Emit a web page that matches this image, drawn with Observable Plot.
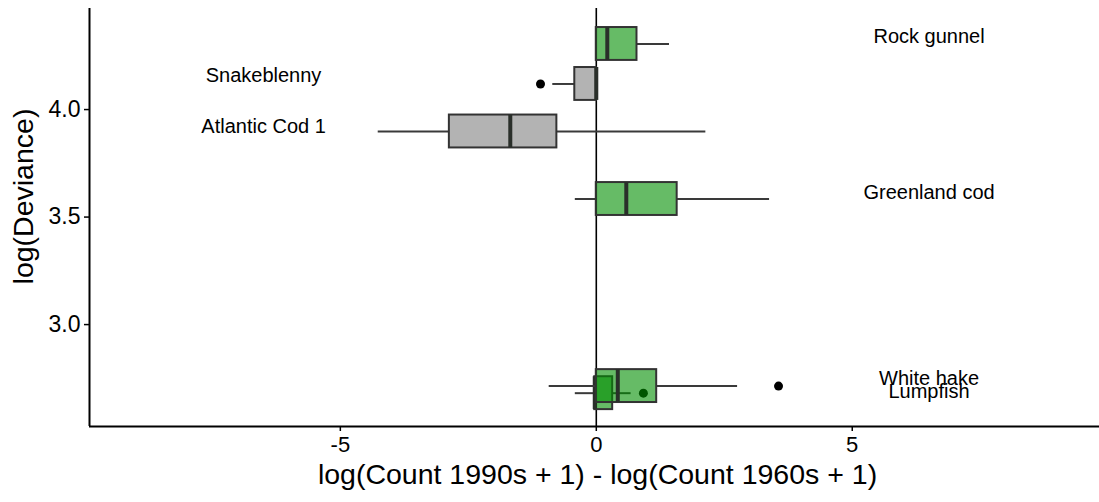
<!DOCTYPE html>
<html>
<head>
<meta charset="utf-8">
<script src="https://cdn.jsdelivr.net/npm/d3@7"></script>
<script src="https://cdn.jsdelivr.net/npm/@observablehq/plot@0.6"></script>
<style>
  html, body { margin: 0; padding: 0; background: #fff; }
  #chart { width: 1099px; height: 502px; }
</style>
</head>
<body>
<div id="chart"></div>
<script>
// ---- data ----
const species   = ["Rock gunnel", "Snakeblenny", "Atlantic Cod 1", "Greenland cod", "Lumpfish", "White hake"];
const deviance  = [4.305, 4.119, 3.898, 3.584, 2.681, 2.714];   // log(Deviance), box centre
const labelDev  = [4.340, 4.156, 3.923, 3.616, 2.688, 2.749];   // log(Deviance) of the label
const labelSide = [1, -1, -1, 1, 1, 1];
const whiskerLo = [0.00, -0.85, -4.26, -0.41, -0.41, -0.92];
const q1        = [0.00, -0.42, -2.87, 0.00, -0.03, 0.00];
const median    = [0.215, 0.00, -1.68, 0.586, -0.03, 0.42];
const q3        = [0.795, 0.00, -0.77, 1.58, 0.32, 1.18];
const whiskerHi = [1.43, 0.00, 2.14, 3.385, 0.68, 2.76];
const trend     = ["up", "down", "down", "up", "up", "up"];
const outlierSpecies = ["Snakeblenny", "Lumpfish", "White hake"];
const outlierValue   = [-1.09, 0.92, 3.56];
const xTicks = [-5, 0, 5];
const yTicks = [3.0, 3.5, 4.0];
const xDomain = [-9.9, 9.83];
const yDomain = [2.526, 4.47];

// ---- build table ----
const boxHalf = 0.0765;
const labelOffset = 6.5;
const rows = species.map((s, i) => ({
  species: s, y: deviance[i], ly: labelDev[i], lx: labelSide[i] * labelOffset,
  lo: whiskerLo[i], q1: q1[i], med: median[i], q3: q3[i], hi: whiskerHi[i],
  trend: trend[i], y1: deviance[i] - boxHalf, y2: deviance[i] + boxHalf
}));
const outliers = outlierSpecies.map((s, i) => ({
  species: s, x: outlierValue[i], y: deviance[species.indexOf(s)]
}));

const fills = {up: "rgb(0,142,0)", down: "rgb(128,128,128)"};
const marks = [];

// zero line
marks.push(Plot.ruleX([0], {y1: yDomain[0], y2: yDomain[1], stroke: "#000", strokeWidth: 1.6}));

rows.forEach(r => {
  const d = [r];
  marks.push(Plot.ruleY(d, {y: "y", x1: "lo", x2: "q1", stroke: "#3a3a3a", strokeWidth: 2}));
  marks.push(Plot.ruleY(d, {y: "y", x1: "q3", x2: "hi", stroke: "#3a3a3a", strokeWidth: 2}));
  marks.push(Plot.dot(outliers.filter(o => o.species === r.species), {x: "x", y: "y", r: 4.5, fill: "#000", stroke: "none"}));
  marks.push(Plot.rect(d, {x1: "q1", x2: "q3", y1: "y1", y2: "y2", fill: fills[r.trend], fillOpacity: 0.6, stroke: "#333", strokeWidth: 2}));
  marks.push(Plot.ruleX(d, {x: "med", y1: "y1", y2: "y2", stroke: "#2a2f2a", strokeWidth: 4}));
});

// labels
marks.push(Plot.text(rows, {x: "lx", y: "ly", text: "species", fontSize: 20, fill: "#000", textAnchor: "middle"}));

// axis lines
marks.push(Plot.ruleX([xDomain[0]], {y1: yDomain[0], y2: yDomain[1], stroke: "#000", strokeWidth: 2}));
marks.push(Plot.ruleY([yDomain[0]], {x1: xDomain[0], x2: xDomain[1], stroke: "#000", strokeWidth: 2}));

// axes
marks.push(Plot.axisX({ticks: xTicks, tickSize: 5, tickPadding: 5, fontSize: 22, label: null, stroke: "#000", strokeWidth: 1.5, tickFormat: d => String(d)}));
marks.push(Plot.axisY({ticks: yTicks, tickSize: 5, tickPadding: 4, fontSize: 23, label: null, stroke: "#000", strokeWidth: 1.5, tickFormat: d3.format(".1f")}));

// axis titles
marks.push(Plot.text(["log(Count 1990s + 1) - log(Count 1960s + 1)"], {frameAnchor: "bottom", text: d => d, dy: 57, dx: 3, fontSize: 28.5, fill: "#000", textAnchor: "middle"}));
marks.push(Plot.text(["log(Deviance)"], {frameAnchor: "left", text: d => d, rotate: -90, dx: -66, dy: -21, fontSize: 28.5, fill: "#000", textAnchor: "middle"}));

const chart = Plot.plot({
  width: 1099,
  height: 502,
  marginLeft: 89,
  marginRight: 0,
  marginTop: 8,
  marginBottom: 76,
  x: {domain: xDomain},
  y: {domain: yDomain},
  style: {fontFamily: "'Liberation Sans', Arial, sans-serif", background: "#fff", color: "#000"},
  marks
});
document.getElementById("chart").appendChild(chart);
</script>
</body>
</html>
